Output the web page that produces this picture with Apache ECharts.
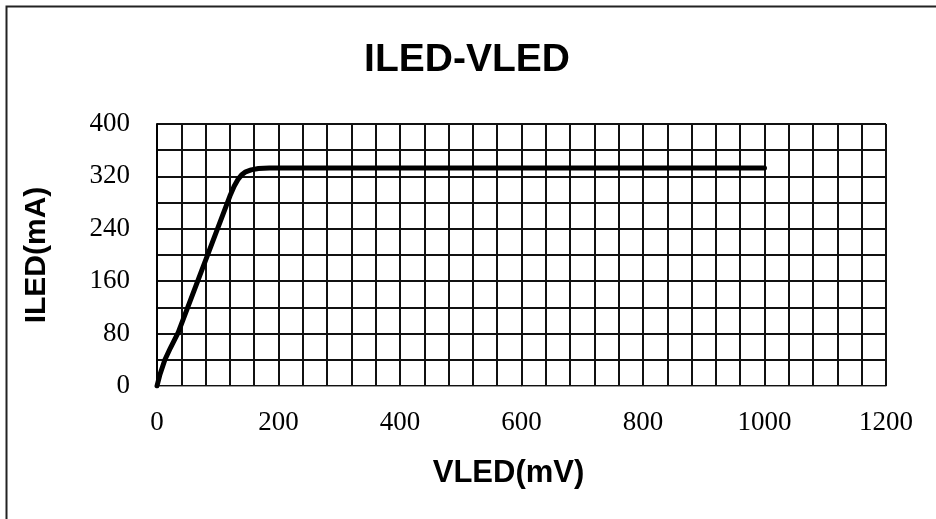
<!DOCTYPE html>
<html>
<head>
<meta charset="utf-8">
<script src="https://cdn.jsdelivr.net/npm/echarts@6/dist/echarts.min.js"></script>
<style>
html,body{margin:0;padding:0;background:#fff;}
#chart{width:936px;height:519px;}
</style>
</head>
<body>
<div id="chart"></div>
<script>
const vled = [0, 5, 13, 22, 35, 120, 127, 133, 139, 146, 155, 167, 185, 210, 1000];
const iled = [0, 18, 40, 58, 82, 290, 305, 315, 322, 327, 330, 332, 333, 333, 333];
const xTickLabels = [0, 200, 400, 600, 800, 1000, 1200];
const yTickLabels = [0, 80, 160, 240, 320, 400];
const titleText = 'ILED-VLED';
const xName = 'VLED(mV)';
const yName = 'ILED(mA)';

const chart = echarts.init(document.getElementById('chart'), null, {renderer: 'canvas'});
const gridStyle = {show: true, lineStyle: {color: '#111', width: 2}};
chart.setOption({
  animation: false,
  backgroundColor: '#fff',
  graphic: [{
    type: 'rect', silent: true, z: 0,
    shape: {x: 6.5, y: 6.5, width: 1000, height: 1000},
    style: {fill: 'none', stroke: '#222', lineWidth: 2}
  }],
  title: {
    text: titleText, left: 462, top: 36, textAlign: 'center',
    textStyle: {fontFamily: 'Liberation Sans, Arial', fontWeight: 'bold', fontSize: 39, color: '#000'}
  },
  grid: {left: 157, right: 50, top: 124, bottom: 133, show: true, borderColor: '#999', borderWidth: 1, backgroundColor: '#fff'},
  xAxis: {
    type: 'value', min: 0, max: 1200, interval: 40,
    name: xName, nameLocation: 'middle', nameGap: 72,
    nameTextStyle: {fontFamily: 'Liberation Sans, Arial', fontWeight: 'bold', fontSize: 31, color: '#000', padding: [0, 26, 0, 0]},
    axisLine: {show: true, lineStyle: {color: '#999', width: 1}},
    axisTick: {show: false},
    splitLine: gridStyle,
    axisLabel: {
      margin: 23, fontFamily: 'Liberation Serif', fontSize: 27, color: '#000',
      formatter: v => xTickLabels.includes(v) ? String(v) : ''
    }
  },
  yAxis: {
    type: 'value', min: 0, max: 400, interval: 40,
    name: yName, nameLocation: 'middle', nameGap: 105, nameRotate: 90,
    nameTextStyle: {fontFamily: 'Liberation Sans, Arial', fontWeight: 'bold', fontSize: 30, color: '#000'},
    axisLine: {show: true, lineStyle: {color: '#000', width: 2}},
    axisTick: {show: false},
    splitLine: gridStyle,
    axisLabel: {
      margin: 27, fontFamily: 'Liberation Serif', fontSize: 27, color: '#000',
      formatter: v => yTickLabels.includes(v) ? String(v) : ''
    }
  },
  series: [{
    type: 'line',
    data: vled.map((x, i) => [x, iled[i]]),
    smooth: false,
    showSymbol: false, symbol: 'none',
    lineStyle: {color: '#000', width: 5, join: 'round', cap: 'round'},
    z: 5
  }]
});
</script>
</body>
</html>
